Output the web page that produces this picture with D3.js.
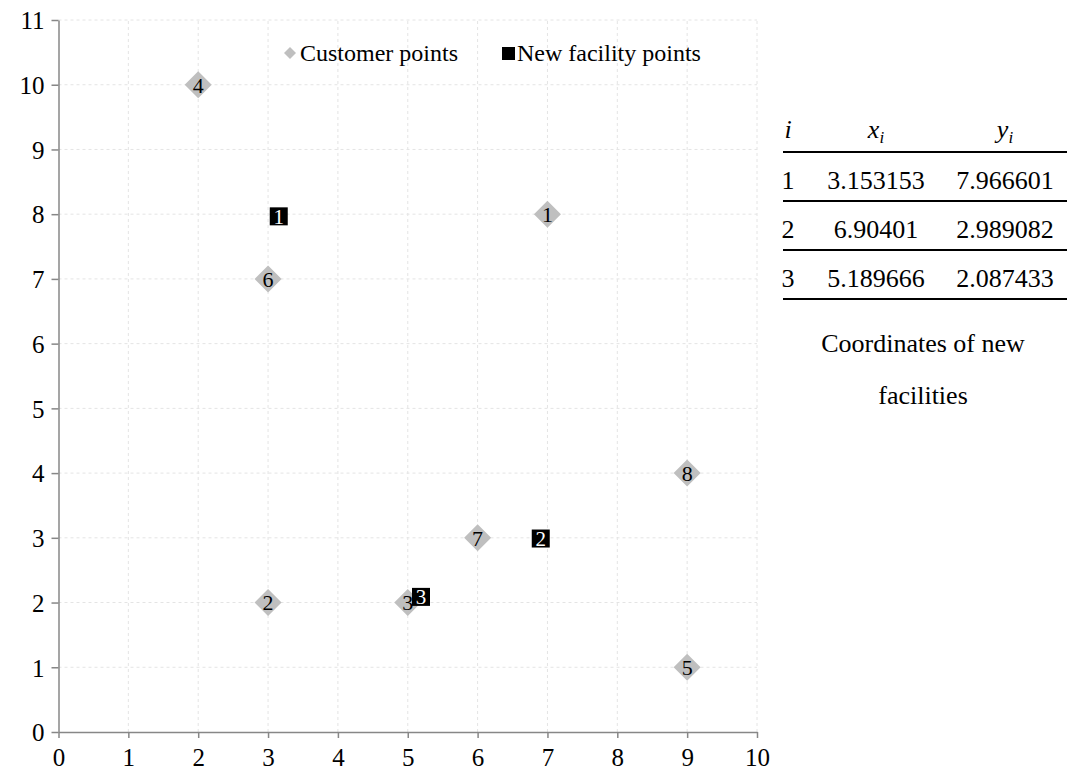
<!DOCTYPE html>
<html>
<head>
<meta charset="utf-8">
<script src="https://cdn.jsdelivr.net/npm/d3@7"></script>
<style>
  body { margin: 0; background: #fff; }
  svg { display: block; font-family: "Liberation Serif", "Times New Roman", serif; }
</style>
</head>
<body>
<svg id="chart" width="1067" height="778"></svg>
<script>
// customer points
const custIds = [1, 2, 3, 4, 5, 6, 7, 8];
const custX = [7, 3, 5, 2, 9, 3, 6, 9];
const custY = [8, 2, 2, 10, 1, 7, 3, 4];
// new facility points
const facIds = [1, 2, 3];
const facX = [3.153153, 6.90401, 5.189666];
const facY = [7.966601, 2.989082, 2.087433];
const facXText = ['3.153153', '6.90401', '5.189666'];
const facYText = ['7.966601', '2.989082', '2.087433'];
const xTicks = d3.range(0, 11);
const yTicks = d3.range(0, 12);

const svg = d3.select('#chart');
const x = d3.scaleLinear().domain([0, 10]).range([58.5, 757]);
const y = d3.scaleLinear().domain([0, 11]).range([732, 20]);

// grid
const grid = svg.append('g');
grid.selectAll('.gx').data(xTicks.slice(1)).enter().append('line')
    .attr('x1', d => x(d)).attr('x2', d => x(d))
    .attr('y1', y(0)).attr('y2', y(11))
    .attr('stroke', '#e4e4e4').attr('stroke-dasharray', '3,3');
grid.selectAll('.gy').data(yTicks.slice(1)).enter().append('line')
    .attr('x1', x(0)).attr('x2', x(10))
    .attr('y1', d => y(d)).attr('y2', d => y(d))
    .attr('stroke', '#e4e4e4').attr('stroke-dasharray', '3,3');

// axes
const xAxis = svg.append('g').attr('transform', `translate(0,${y(0)})`)
    .call(d3.axisBottom(x).tickValues(xTicks).tickSize(6).tickSizeOuter(0).tickPadding(10));
const yAxis = svg.append('g').attr('transform', `translate(${x(0)},0)`)
    .call(d3.axisLeft(y).tickValues(yTicks).tickSize(7).tickSizeOuter(0).tickPadding(7));
[xAxis, yAxis].forEach(a => {
    a.attr('font-size', null).attr('font-family', null);
    a.select('.domain').attr('stroke', '#878787').attr('stroke-width', 1.5);
    a.selectAll('.tick line').attr('stroke', '#878787').attr('stroke-width', 1.5);
    a.selectAll('text').attr('fill', '#000').style('font-size', '25px')
        .style('font-family', '"Liberation Serif", serif');
});
yAxis.selectAll('text').attr('dy', '0.35em');

// customer diamonds
const customers = custIds.map((id, i) => ({id, x: custX[i], y: custY[i]}));
const cg = svg.append('g');
cg.selectAll('path').data(customers).enter().append('path')
    .attr('transform', d => `translate(${x(d.x)},${y(d.y)})`)
    .attr('d', 'M0,-13.5L13.5,0L0,13.5L-13.5,0Z')
    .attr('fill', '#bfbfbf');
cg.selectAll('text').data(customers).enter().append('text')
    .attr('x', d => x(d.x)).attr('y', d => y(d.y))
    .attr('dy', '0.36em').attr('text-anchor', 'middle')
    .style('font-size', '22px').attr('fill', '#000')
    .text(d => d.id);

// facility squares
const facs = facIds.map((id, i) => ({id, x: facX[i], y: facY[i]}));
const fg = svg.append('g');
fg.selectAll('rect').data(facs).enter().append('rect')
    .attr('x', d => x(d.x) - 9).attr('y', d => y(d.y) - 9)
    .attr('width', 18).attr('height', 18).attr('fill', '#000');
fg.selectAll('text').data(facs).enter().append('text')
    .attr('x', d => x(d.x)).attr('y', d => y(d.y))
    .attr('dy', '0.36em').attr('text-anchor', 'middle')
    .style('font-size', '21px').attr('fill', '#fff')
    .text(d => d.id);

// legend
const lg = svg.append('g');
lg.append('path').attr('transform', 'translate(290,53)')
    .attr('d', 'M0,-6L6,0L0,6L-6,0Z').attr('fill', '#bfbfbf');
lg.append('text').attr('x', 300).attr('y', 53).attr('dy', '0.35em')
    .style('font-size', '24px').text('Customer points');
lg.append('rect').attr('x', 502).attr('y', 47).attr('width', 13).attr('height', 13).attr('fill', '#000');
lg.append('text').attr('x', 517).attr('y', 53).attr('dy', '0.35em')
    .style('font-size', '24px').text('New facility points');

// table
const tb = svg.append('g').style('font-size', '26px');
const colX = [788, 876, 1005];
tb.append('text').attr('x', colX[0]).attr('y', 138).attr('text-anchor', 'middle')
    .style('font-style', 'italic').text('i');
const hx = tb.append('text').attr('x', colX[1]).attr('y', 138).attr('text-anchor', 'middle').style('font-style', 'italic');
hx.append('tspan').text('x');
hx.append('tspan').attr('dy', 5).style('font-size', '17px').text('i');
const hy = tb.append('text').attr('x', colX[2]).attr('y', 138).attr('text-anchor', 'middle').style('font-style', 'italic');
hy.append('tspan').text('y');
hy.append('tspan').attr('dy', 5).style('font-size', '17px').text('i');

const rowY = d3.scaleLinear().domain([0, 1]).range([189, 238]);
const lineY = [152, 201, 250, 299];
tb.selectAll('line').data(lineY).enter().append('line')
    .attr('x1', 783).attr('x2', 1067).attr('y1', d => d).attr('y2', d => d)
    .attr('stroke', '#000').attr('stroke-width', 2);
facIds.forEach((id, i) => {
    tb.append('text').attr('x', colX[0]).attr('y', rowY(i)).attr('text-anchor', 'middle').text(id);
    tb.append('text').attr('x', colX[1]).attr('y', rowY(i)).attr('text-anchor', 'middle').text(facXText[i]);
    tb.append('text').attr('x', colX[2]).attr('y', rowY(i)).attr('text-anchor', 'middle').text(facYText[i]);
});
tb.append('text').attr('x', 923).attr('y', 352).attr('text-anchor', 'middle').text('Coordinates of new');
tb.append('text').attr('x', 923).attr('y', 404).attr('text-anchor', 'middle').text('facilities');
</script>
</body>
</html>
